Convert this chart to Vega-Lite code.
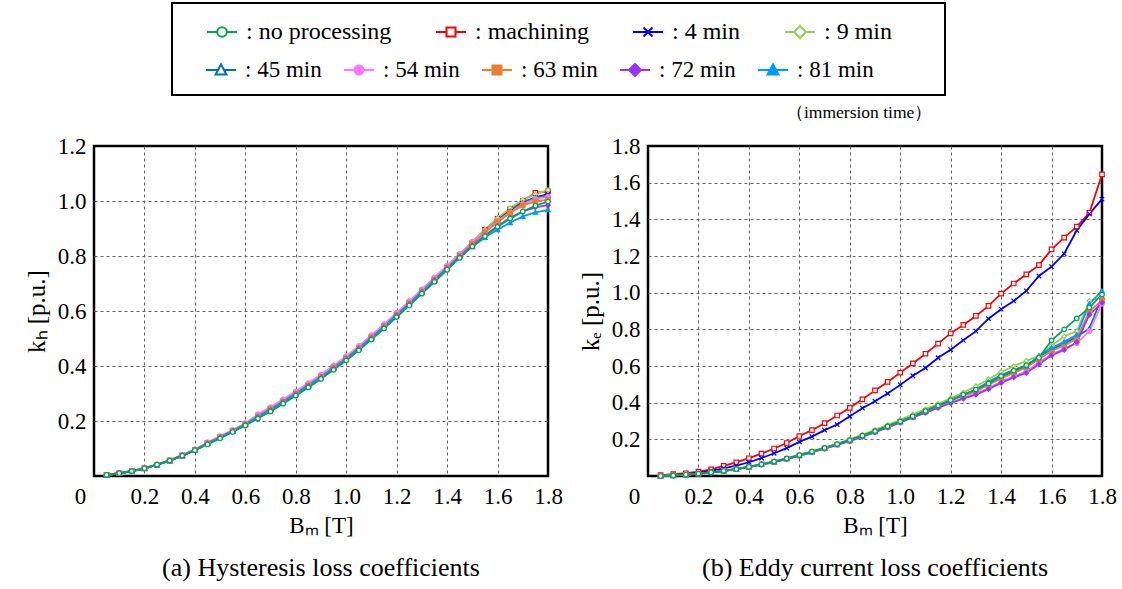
{
"$schema": "https://vega.github.io/schema/vega-lite/v6.json",
"background": "white",
"padding": {"left": 23, "top": 2, "right": 5, "bottom": 2},
"title": {"text": "（immersion time）", "anchor": "start", "frame": "group", "dx": 692, "dy": 123, "fontSize": 17.5, "font": "Liberation Serif", "fontWeight": "normal", "color": "black"},
"datasets": {
"a": [
{"s":"machining","B":0.05,"k":0.004},{"s":"machining","B":0.1,"k":0.010},{"s":"machining","B":0.15,"k":0.018},{"s":"machining","B":0.2,"k":0.028},{"s":"machining","B":0.25,"k":0.041},{"s":"machining","B":0.3,"k":0.056},{"s":"machining","B":0.35,"k":0.074},{"s":"machining","B":0.4,"k":0.094},{"s":"machining","B":0.45,"k":0.119},{"s":"machining","B":0.5,"k":0.141},{"s":"machining","B":0.55,"k":0.164},{"s":"machining","B":0.6,"k":0.188},{"s":"machining","B":0.65,"k":0.217},{"s":"machining","B":0.7,"k":0.243},{"s":"machining","B":0.75,"k":0.271},{"s":"machining","B":0.8,"k":0.300},{"s":"machining","B":0.85,"k":0.330},{"s":"machining","B":0.9,"k":0.361},{"s":"machining","B":0.95,"k":0.394},{"s":"machining","B":1,"k":0.428},{"s":"machining","B":1.05,"k":0.465},{"s":"machining","B":1.1,"k":0.504},{"s":"machining","B":1.15,"k":0.544},{"s":"machining","B":1.2,"k":0.586},{"s":"machining","B":1.25,"k":0.628},{"s":"machining","B":1.3,"k":0.671},{"s":"machining","B":1.35,"k":0.714},{"s":"machining","B":1.4,"k":0.758},{"s":"machining","B":1.45,"k":0.803},{"s":"machining","B":1.5,"k":0.848},{"s":"machining","B":1.55,"k":0.895},{"s":"machining","B":1.6,"k":0.935},{"s":"machining","B":1.65,"k":0.970},{"s":"machining","B":1.7,"k":1.000},{"s":"machining","B":1.75,"k":1.030},{"s":"machining","B":1.8,"k":1.035},
{"s":"4 min","B":0.05,"k":0.004},{"s":"4 min","B":0.1,"k":0.010},{"s":"4 min","B":0.15,"k":0.018},{"s":"4 min","B":0.2,"k":0.028},{"s":"4 min","B":0.25,"k":0.041},{"s":"4 min","B":0.3,"k":0.056},{"s":"4 min","B":0.35,"k":0.074},{"s":"4 min","B":0.4,"k":0.094},{"s":"4 min","B":0.45,"k":0.120},{"s":"4 min","B":0.5,"k":0.142},{"s":"4 min","B":0.55,"k":0.165},{"s":"4 min","B":0.6,"k":0.189},{"s":"4 min","B":0.65,"k":0.219},{"s":"4 min","B":0.7,"k":0.245},{"s":"4 min","B":0.75,"k":0.273},{"s":"4 min","B":0.8,"k":0.302},{"s":"4 min","B":0.85,"k":0.332},{"s":"4 min","B":0.9,"k":0.363},{"s":"4 min","B":0.95,"k":0.396},{"s":"4 min","B":1,"k":0.430},{"s":"4 min","B":1.05,"k":0.467},{"s":"4 min","B":1.1,"k":0.506},{"s":"4 min","B":1.15,"k":0.546},{"s":"4 min","B":1.2,"k":0.588},{"s":"4 min","B":1.25,"k":0.630},{"s":"4 min","B":1.3,"k":0.673},{"s":"4 min","B":1.35,"k":0.716},{"s":"4 min","B":1.4,"k":0.760},{"s":"4 min","B":1.45,"k":0.803},{"s":"4 min","B":1.5,"k":0.846},{"s":"4 min","B":1.55,"k":0.888},{"s":"4 min","B":1.6,"k":0.928},{"s":"4 min","B":1.65,"k":0.963},{"s":"4 min","B":1.7,"k":0.993},{"s":"4 min","B":1.75,"k":1.013},{"s":"4 min","B":1.8,"k":1.025},
{"s":"9 min","B":0.05,"k":0.004},{"s":"9 min","B":0.1,"k":0.010},{"s":"9 min","B":0.15,"k":0.018},{"s":"9 min","B":0.2,"k":0.028},{"s":"9 min","B":0.25,"k":0.041},{"s":"9 min","B":0.3,"k":0.056},{"s":"9 min","B":0.35,"k":0.075},{"s":"9 min","B":0.4,"k":0.095},{"s":"9 min","B":0.45,"k":0.121},{"s":"9 min","B":0.5,"k":0.143},{"s":"9 min","B":0.55,"k":0.166},{"s":"9 min","B":0.6,"k":0.190},{"s":"9 min","B":0.65,"k":0.221},{"s":"9 min","B":0.7,"k":0.247},{"s":"9 min","B":0.75,"k":0.275},{"s":"9 min","B":0.8,"k":0.304},{"s":"9 min","B":0.85,"k":0.334},{"s":"9 min","B":0.9,"k":0.365},{"s":"9 min","B":0.95,"k":0.398},{"s":"9 min","B":1,"k":0.432},{"s":"9 min","B":1.05,"k":0.469},{"s":"9 min","B":1.1,"k":0.508},{"s":"9 min","B":1.15,"k":0.548},{"s":"9 min","B":1.2,"k":0.590},{"s":"9 min","B":1.25,"k":0.632},{"s":"9 min","B":1.3,"k":0.675},{"s":"9 min","B":1.35,"k":0.718},{"s":"9 min","B":1.4,"k":0.762},{"s":"9 min","B":1.45,"k":0.806},{"s":"9 min","B":1.5,"k":0.852},{"s":"9 min","B":1.55,"k":0.897},{"s":"9 min","B":1.6,"k":0.938},{"s":"9 min","B":1.65,"k":0.974},{"s":"9 min","B":1.7,"k":1.004},{"s":"9 min","B":1.75,"k":1.025},{"s":"9 min","B":1.8,"k":1.040},
{"s":"45 min","B":0.05,"k":0.004},{"s":"45 min","B":0.1,"k":0.010},{"s":"45 min","B":0.15,"k":0.018},{"s":"45 min","B":0.2,"k":0.028},{"s":"45 min","B":0.25,"k":0.041},{"s":"45 min","B":0.3,"k":0.057},{"s":"45 min","B":0.35,"k":0.075},{"s":"45 min","B":0.4,"k":0.095},{"s":"45 min","B":0.45,"k":0.120},{"s":"45 min","B":0.5,"k":0.142},{"s":"45 min","B":0.55,"k":0.165},{"s":"45 min","B":0.6,"k":0.189},{"s":"45 min","B":0.65,"k":0.219},{"s":"45 min","B":0.7,"k":0.245},{"s":"45 min","B":0.75,"k":0.273},{"s":"45 min","B":0.8,"k":0.302},{"s":"45 min","B":0.85,"k":0.332},{"s":"45 min","B":0.9,"k":0.363},{"s":"45 min","B":0.95,"k":0.396},{"s":"45 min","B":1,"k":0.430},{"s":"45 min","B":1.05,"k":0.467},{"s":"45 min","B":1.1,"k":0.506},{"s":"45 min","B":1.15,"k":0.546},{"s":"45 min","B":1.2,"k":0.588},{"s":"45 min","B":1.25,"k":0.630},{"s":"45 min","B":1.3,"k":0.673},{"s":"45 min","B":1.35,"k":0.716},{"s":"45 min","B":1.4,"k":0.760},{"s":"45 min","B":1.45,"k":0.804},{"s":"45 min","B":1.5,"k":0.848},{"s":"45 min","B":1.55,"k":0.891},{"s":"45 min","B":1.6,"k":0.929},{"s":"45 min","B":1.65,"k":0.964},{"s":"45 min","B":1.7,"k":0.994},{"s":"45 min","B":1.75,"k":1.013},{"s":"45 min","B":1.8,"k":1.020},
{"s":"54 min","B":0.05,"k":0.004},{"s":"54 min","B":0.1,"k":0.011},{"s":"54 min","B":0.15,"k":0.019},{"s":"54 min","B":0.2,"k":0.030},{"s":"54 min","B":0.25,"k":0.043},{"s":"54 min","B":0.3,"k":0.058},{"s":"54 min","B":0.35,"k":0.077},{"s":"54 min","B":0.4,"k":0.097},{"s":"54 min","B":0.45,"k":0.123},{"s":"54 min","B":0.5,"k":0.145},{"s":"54 min","B":0.55,"k":0.168},{"s":"54 min","B":0.6,"k":0.192},{"s":"54 min","B":0.65,"k":0.225},{"s":"54 min","B":0.7,"k":0.251},{"s":"54 min","B":0.75,"k":0.279},{"s":"54 min","B":0.8,"k":0.308},{"s":"54 min","B":0.85,"k":0.338},{"s":"54 min","B":0.9,"k":0.369},{"s":"54 min","B":0.95,"k":0.402},{"s":"54 min","B":1,"k":0.436},{"s":"54 min","B":1.05,"k":0.473},{"s":"54 min","B":1.1,"k":0.512},{"s":"54 min","B":1.15,"k":0.552},{"s":"54 min","B":1.2,"k":0.594},{"s":"54 min","B":1.25,"k":0.636},{"s":"54 min","B":1.3,"k":0.679},{"s":"54 min","B":1.35,"k":0.722},{"s":"54 min","B":1.4,"k":0.766},{"s":"54 min","B":1.45,"k":0.808},{"s":"54 min","B":1.5,"k":0.852},{"s":"54 min","B":1.55,"k":0.891},{"s":"54 min","B":1.6,"k":0.927},{"s":"54 min","B":1.65,"k":0.959},{"s":"54 min","B":1.7,"k":0.989},{"s":"54 min","B":1.75,"k":1.008},{"s":"54 min","B":1.8,"k":1.015},
{"s":"63 min","B":0.05,"k":0.004},{"s":"63 min","B":0.1,"k":0.010},{"s":"63 min","B":0.15,"k":0.018},{"s":"63 min","B":0.2,"k":0.028},{"s":"63 min","B":0.25,"k":0.041},{"s":"63 min","B":0.3,"k":0.056},{"s":"63 min","B":0.35,"k":0.074},{"s":"63 min","B":0.4,"k":0.094},{"s":"63 min","B":0.45,"k":0.119},{"s":"63 min","B":0.5,"k":0.141},{"s":"63 min","B":0.55,"k":0.164},{"s":"63 min","B":0.6,"k":0.188},{"s":"63 min","B":0.65,"k":0.217},{"s":"63 min","B":0.7,"k":0.243},{"s":"63 min","B":0.75,"k":0.271},{"s":"63 min","B":0.8,"k":0.300},{"s":"63 min","B":0.85,"k":0.330},{"s":"63 min","B":0.9,"k":0.361},{"s":"63 min","B":0.95,"k":0.394},{"s":"63 min","B":1,"k":0.428},{"s":"63 min","B":1.05,"k":0.465},{"s":"63 min","B":1.1,"k":0.504},{"s":"63 min","B":1.15,"k":0.544},{"s":"63 min","B":1.2,"k":0.586},{"s":"63 min","B":1.25,"k":0.628},{"s":"63 min","B":1.3,"k":0.671},{"s":"63 min","B":1.35,"k":0.714},{"s":"63 min","B":1.4,"k":0.758},{"s":"63 min","B":1.45,"k":0.801},{"s":"63 min","B":1.5,"k":0.845},{"s":"63 min","B":1.55,"k":0.886},{"s":"63 min","B":1.6,"k":0.923},{"s":"63 min","B":1.65,"k":0.956},{"s":"63 min","B":1.7,"k":0.984},{"s":"63 min","B":1.75,"k":0.999},{"s":"63 min","B":1.8,"k":1.005},
{"s":"72 min","B":0.05,"k":0.004},{"s":"72 min","B":0.1,"k":0.010},{"s":"72 min","B":0.15,"k":0.018},{"s":"72 min","B":0.2,"k":0.028},{"s":"72 min","B":0.25,"k":0.041},{"s":"72 min","B":0.3,"k":0.056},{"s":"72 min","B":0.35,"k":0.074},{"s":"72 min","B":0.4,"k":0.094},{"s":"72 min","B":0.45,"k":0.118},{"s":"72 min","B":0.5,"k":0.140},{"s":"72 min","B":0.55,"k":0.163},{"s":"72 min","B":0.6,"k":0.187},{"s":"72 min","B":0.65,"k":0.214},{"s":"72 min","B":0.7,"k":0.240},{"s":"72 min","B":0.75,"k":0.268},{"s":"72 min","B":0.8,"k":0.297},{"s":"72 min","B":0.85,"k":0.327},{"s":"72 min","B":0.9,"k":0.358},{"s":"72 min","B":0.95,"k":0.391},{"s":"72 min","B":1,"k":0.425},{"s":"72 min","B":1.05,"k":0.462},{"s":"72 min","B":1.1,"k":0.501},{"s":"72 min","B":1.15,"k":0.541},{"s":"72 min","B":1.2,"k":0.583},{"s":"72 min","B":1.25,"k":0.625},{"s":"72 min","B":1.3,"k":0.668},{"s":"72 min","B":1.35,"k":0.711},{"s":"72 min","B":1.4,"k":0.755},{"s":"72 min","B":1.45,"k":0.798},{"s":"72 min","B":1.5,"k":0.838},{"s":"72 min","B":1.55,"k":0.875},{"s":"72 min","B":1.6,"k":0.909},{"s":"72 min","B":1.65,"k":0.939},{"s":"72 min","B":1.7,"k":0.962},{"s":"72 min","B":1.75,"k":0.977},{"s":"72 min","B":1.8,"k":0.985},
{"s":"81 min","B":0.05,"k":0.003},{"s":"81 min","B":0.1,"k":0.009},{"s":"81 min","B":0.15,"k":0.017},{"s":"81 min","B":0.2,"k":0.027},{"s":"81 min","B":0.25,"k":0.040},{"s":"81 min","B":0.3,"k":0.055},{"s":"81 min","B":0.35,"k":0.074},{"s":"81 min","B":0.4,"k":0.094},{"s":"81 min","B":0.45,"k":0.118},{"s":"81 min","B":0.5,"k":0.140},{"s":"81 min","B":0.55,"k":0.163},{"s":"81 min","B":0.6,"k":0.187},{"s":"81 min","B":0.65,"k":0.215},{"s":"81 min","B":0.7,"k":0.241},{"s":"81 min","B":0.75,"k":0.269},{"s":"81 min","B":0.8,"k":0.298},{"s":"81 min","B":0.85,"k":0.328},{"s":"81 min","B":0.9,"k":0.359},{"s":"81 min","B":0.95,"k":0.392},{"s":"81 min","B":1,"k":0.426},{"s":"81 min","B":1.05,"k":0.463},{"s":"81 min","B":1.1,"k":0.502},{"s":"81 min","B":1.15,"k":0.542},{"s":"81 min","B":1.2,"k":0.584},{"s":"81 min","B":1.25,"k":0.626},{"s":"81 min","B":1.3,"k":0.669},{"s":"81 min","B":1.35,"k":0.712},{"s":"81 min","B":1.4,"k":0.755},{"s":"81 min","B":1.45,"k":0.797},{"s":"81 min","B":1.5,"k":0.834},{"s":"81 min","B":1.55,"k":0.867},{"s":"81 min","B":1.6,"k":0.896},{"s":"81 min","B":1.65,"k":0.921},{"s":"81 min","B":1.7,"k":0.944},{"s":"81 min","B":1.75,"k":0.959},{"s":"81 min","B":1.8,"k":0.968},
{"s":"no processing","B":0.05,"k":0.004},{"s":"no processing","B":0.1,"k":0.010},{"s":"no processing","B":0.15,"k":0.018},{"s":"no processing","B":0.2,"k":0.028},{"s":"no processing","B":0.25,"k":0.041},{"s":"no processing","B":0.3,"k":0.056},{"s":"no processing","B":0.35,"k":0.074},{"s":"no processing","B":0.4,"k":0.094},{"s":"no processing","B":0.45,"k":0.115},{"s":"no processing","B":0.5,"k":0.137},{"s":"no processing","B":0.55,"k":0.160},{"s":"no processing","B":0.6,"k":0.184},{"s":"no processing","B":0.65,"k":0.209},{"s":"no processing","B":0.7,"k":0.235},{"s":"no processing","B":0.75,"k":0.263},{"s":"no processing","B":0.8,"k":0.292},{"s":"no processing","B":0.85,"k":0.322},{"s":"no processing","B":0.9,"k":0.353},{"s":"no processing","B":0.95,"k":0.386},{"s":"no processing","B":1,"k":0.420},{"s":"no processing","B":1.05,"k":0.457},{"s":"no processing","B":1.1,"k":0.496},{"s":"no processing","B":1.15,"k":0.536},{"s":"no processing","B":1.2,"k":0.578},{"s":"no processing","B":1.25,"k":0.620},{"s":"no processing","B":1.3,"k":0.663},{"s":"no processing","B":1.35,"k":0.706},{"s":"no processing","B":1.4,"k":0.750},{"s":"no processing","B":1.45,"k":0.793},{"s":"no processing","B":1.5,"k":0.835},{"s":"no processing","B":1.55,"k":0.872},{"s":"no processing","B":1.6,"k":0.906},{"s":"no processing","B":1.65,"k":0.936},{"s":"no processing","B":1.7,"k":0.962},{"s":"no processing","B":1.75,"k":0.983},{"s":"no processing","B":1.8,"k":0.998}
],
"b": [
{"s":"machining","B":0.05,"k":0.005},{"s":"machining","B":0.1,"k":0.010},{"s":"machining","B":0.15,"k":0.015},{"s":"machining","B":0.2,"k":0.024},{"s":"machining","B":0.25,"k":0.036},{"s":"machining","B":0.3,"k":0.055},{"s":"machining","B":0.35,"k":0.074},{"s":"machining","B":0.4,"k":0.097},{"s":"machining","B":0.45,"k":0.122},{"s":"machining","B":0.5,"k":0.150},{"s":"machining","B":0.55,"k":0.180},{"s":"machining","B":0.6,"k":0.218},{"s":"machining","B":0.65,"k":0.250},{"s":"machining","B":0.7,"k":0.288},{"s":"machining","B":0.75,"k":0.330},{"s":"machining","B":0.8,"k":0.372},{"s":"machining","B":0.85,"k":0.418},{"s":"machining","B":0.9,"k":0.467},{"s":"machining","B":0.95,"k":0.513},{"s":"machining","B":1,"k":0.564},{"s":"machining","B":1.05,"k":0.614},{"s":"machining","B":1.1,"k":0.667},{"s":"machining","B":1.15,"k":0.722},{"s":"machining","B":1.2,"k":0.778},{"s":"machining","B":1.25,"k":0.824},{"s":"machining","B":1.3,"k":0.873},{"s":"machining","B":1.35,"k":0.928},{"s":"machining","B":1.4,"k":0.995},{"s":"machining","B":1.45,"k":1.050},{"s":"machining","B":1.5,"k":1.100},{"s":"machining","B":1.55,"k":1.150},{"s":"machining","B":1.6,"k":1.236},{"s":"machining","B":1.65,"k":1.300},{"s":"machining","B":1.7,"k":1.360},{"s":"machining","B":1.75,"k":1.436},{"s":"machining","B":1.8,"k":1.645},
{"s":"4 min","B":0.05,"k":0.000},{"s":"4 min","B":0.1,"k":0.003},{"s":"4 min","B":0.15,"k":0.010},{"s":"4 min","B":0.2,"k":0.018},{"s":"4 min","B":0.25,"k":0.028},{"s":"4 min","B":0.3,"k":0.042},{"s":"4 min","B":0.35,"k":0.057},{"s":"4 min","B":0.4,"k":0.075},{"s":"4 min","B":0.45,"k":0.098},{"s":"4 min","B":0.5,"k":0.124},{"s":"4 min","B":0.55,"k":0.152},{"s":"4 min","B":0.6,"k":0.186},{"s":"4 min","B":0.65,"k":0.215},{"s":"4 min","B":0.7,"k":0.250},{"s":"4 min","B":0.75,"k":0.281},{"s":"4 min","B":0.8,"k":0.326},{"s":"4 min","B":0.85,"k":0.370},{"s":"4 min","B":0.9,"k":0.408},{"s":"4 min","B":0.95,"k":0.450},{"s":"4 min","B":1,"k":0.497},{"s":"4 min","B":1.05,"k":0.547},{"s":"4 min","B":1.1,"k":0.589},{"s":"4 min","B":1.15,"k":0.645},{"s":"4 min","B":1.2,"k":0.689},{"s":"4 min","B":1.25,"k":0.740},{"s":"4 min","B":1.3,"k":0.790},{"s":"4 min","B":1.35,"k":0.858},{"s":"4 min","B":1.4,"k":0.910},{"s":"4 min","B":1.45,"k":0.955},{"s":"4 min","B":1.5,"k":1.010},{"s":"4 min","B":1.55,"k":1.091},{"s":"4 min","B":1.6,"k":1.142},{"s":"4 min","B":1.65,"k":1.212},{"s":"4 min","B":1.7,"k":1.340},{"s":"4 min","B":1.75,"k":1.430},{"s":"4 min","B":1.8,"k":1.510},
{"s":"9 min","B":0.05,"k":0.000},{"s":"9 min","B":0.1,"k":0.003},{"s":"9 min","B":0.15,"k":0.007},{"s":"9 min","B":0.2,"k":0.013},{"s":"9 min","B":0.25,"k":0.020},{"s":"9 min","B":0.3,"k":0.028},{"s":"9 min","B":0.35,"k":0.039},{"s":"9 min","B":0.4,"k":0.051},{"s":"9 min","B":0.45,"k":0.065},{"s":"9 min","B":0.5,"k":0.080},{"s":"9 min","B":0.55,"k":0.097},{"s":"9 min","B":0.6,"k":0.116},{"s":"9 min","B":0.65,"k":0.135},{"s":"9 min","B":0.7,"k":0.155},{"s":"9 min","B":0.75,"k":0.177},{"s":"9 min","B":0.8,"k":0.200},{"s":"9 min","B":0.85,"k":0.226},{"s":"9 min","B":0.9,"k":0.252},{"s":"9 min","B":0.95,"k":0.279},{"s":"9 min","B":1,"k":0.307},{"s":"9 min","B":1.05,"k":0.336},{"s":"9 min","B":1.1,"k":0.365},{"s":"9 min","B":1.15,"k":0.394},{"s":"9 min","B":1.2,"k":0.424},{"s":"9 min","B":1.25,"k":0.455},{"s":"9 min","B":1.3,"k":0.490},{"s":"9 min","B":1.35,"k":0.528},{"s":"9 min","B":1.4,"k":0.568},{"s":"9 min","B":1.45,"k":0.600},{"s":"9 min","B":1.5,"k":0.628},{"s":"9 min","B":1.55,"k":0.655},{"s":"9 min","B":1.6,"k":0.710},{"s":"9 min","B":1.65,"k":0.762},{"s":"9 min","B":1.7,"k":0.790},{"s":"9 min","B":1.75,"k":0.955},{"s":"9 min","B":1.8,"k":0.975},
{"s":"45 min","B":0.05,"k":0.000},{"s":"45 min","B":0.1,"k":0.003},{"s":"45 min","B":0.15,"k":0.007},{"s":"45 min","B":0.2,"k":0.013},{"s":"45 min","B":0.25,"k":0.020},{"s":"45 min","B":0.3,"k":0.028},{"s":"45 min","B":0.35,"k":0.038},{"s":"45 min","B":0.4,"k":0.050},{"s":"45 min","B":0.45,"k":0.064},{"s":"45 min","B":0.5,"k":0.077},{"s":"45 min","B":0.55,"k":0.094},{"s":"45 min","B":0.6,"k":0.112},{"s":"45 min","B":0.65,"k":0.131},{"s":"45 min","B":0.7,"k":0.151},{"s":"45 min","B":0.75,"k":0.172},{"s":"45 min","B":0.8,"k":0.194},{"s":"45 min","B":0.85,"k":0.218},{"s":"45 min","B":0.9,"k":0.243},{"s":"45 min","B":0.95,"k":0.269},{"s":"45 min","B":1,"k":0.296},{"s":"45 min","B":1.05,"k":0.324},{"s":"45 min","B":1.1,"k":0.353},{"s":"45 min","B":1.15,"k":0.382},{"s":"45 min","B":1.2,"k":0.412},{"s":"45 min","B":1.25,"k":0.442},{"s":"45 min","B":1.3,"k":0.468},{"s":"45 min","B":1.35,"k":0.505},{"s":"45 min","B":1.4,"k":0.540},{"s":"45 min","B":1.45,"k":0.570},{"s":"45 min","B":1.5,"k":0.598},{"s":"45 min","B":1.55,"k":0.650},{"s":"45 min","B":1.6,"k":0.690},{"s":"45 min","B":1.65,"k":0.722},{"s":"45 min","B":1.7,"k":0.760},{"s":"45 min","B":1.75,"k":0.805},{"s":"45 min","B":1.8,"k":0.975},
{"s":"54 min","B":0.05,"k":0.000},{"s":"54 min","B":0.1,"k":0.003},{"s":"54 min","B":0.15,"k":0.007},{"s":"54 min","B":0.2,"k":0.013},{"s":"54 min","B":0.25,"k":0.020},{"s":"54 min","B":0.3,"k":0.028},{"s":"54 min","B":0.35,"k":0.038},{"s":"54 min","B":0.4,"k":0.050},{"s":"54 min","B":0.45,"k":0.063},{"s":"54 min","B":0.5,"k":0.076},{"s":"54 min","B":0.55,"k":0.093},{"s":"54 min","B":0.6,"k":0.111},{"s":"54 min","B":0.65,"k":0.130},{"s":"54 min","B":0.7,"k":0.150},{"s":"54 min","B":0.75,"k":0.171},{"s":"54 min","B":0.8,"k":0.190},{"s":"54 min","B":0.85,"k":0.214},{"s":"54 min","B":0.9,"k":0.239},{"s":"54 min","B":0.95,"k":0.265},{"s":"54 min","B":1,"k":0.292},{"s":"54 min","B":1.05,"k":0.320},{"s":"54 min","B":1.1,"k":0.347},{"s":"54 min","B":1.15,"k":0.374},{"s":"54 min","B":1.2,"k":0.401},{"s":"54 min","B":1.25,"k":0.427},{"s":"54 min","B":1.3,"k":0.452},{"s":"54 min","B":1.35,"k":0.478},{"s":"54 min","B":1.4,"k":0.515},{"s":"54 min","B":1.45,"k":0.545},{"s":"54 min","B":1.5,"k":0.570},{"s":"54 min","B":1.55,"k":0.620},{"s":"54 min","B":1.6,"k":0.665},{"s":"54 min","B":1.65,"k":0.695},{"s":"54 min","B":1.7,"k":0.725},{"s":"54 min","B":1.75,"k":0.790},{"s":"54 min","B":1.8,"k":0.940},
{"s":"63 min","B":0.05,"k":0.000},{"s":"63 min","B":0.1,"k":0.003},{"s":"63 min","B":0.15,"k":0.007},{"s":"63 min","B":0.2,"k":0.013},{"s":"63 min","B":0.25,"k":0.020},{"s":"63 min","B":0.3,"k":0.028},{"s":"63 min","B":0.35,"k":0.038},{"s":"63 min","B":0.4,"k":0.050},{"s":"63 min","B":0.45,"k":0.063},{"s":"63 min","B":0.5,"k":0.077},{"s":"63 min","B":0.55,"k":0.094},{"s":"63 min","B":0.6,"k":0.112},{"s":"63 min","B":0.65,"k":0.131},{"s":"63 min","B":0.7,"k":0.151},{"s":"63 min","B":0.75,"k":0.172},{"s":"63 min","B":0.8,"k":0.193},{"s":"63 min","B":0.85,"k":0.217},{"s":"63 min","B":0.9,"k":0.242},{"s":"63 min","B":0.95,"k":0.268},{"s":"63 min","B":1,"k":0.295},{"s":"63 min","B":1.05,"k":0.323},{"s":"63 min","B":1.1,"k":0.352},{"s":"63 min","B":1.15,"k":0.381},{"s":"63 min","B":1.2,"k":0.411},{"s":"63 min","B":1.25,"k":0.438},{"s":"63 min","B":1.3,"k":0.462},{"s":"63 min","B":1.35,"k":0.498},{"s":"63 min","B":1.4,"k":0.532},{"s":"63 min","B":1.45,"k":0.562},{"s":"63 min","B":1.5,"k":0.592},{"s":"63 min","B":1.55,"k":0.638},{"s":"63 min","B":1.6,"k":0.682},{"s":"63 min","B":1.65,"k":0.712},{"s":"63 min","B":1.7,"k":0.748},{"s":"63 min","B":1.75,"k":0.900},{"s":"63 min","B":1.8,"k":0.958},
{"s":"72 min","B":0.05,"k":0.000},{"s":"72 min","B":0.1,"k":0.003},{"s":"72 min","B":0.15,"k":0.007},{"s":"72 min","B":0.2,"k":0.013},{"s":"72 min","B":0.25,"k":0.020},{"s":"72 min","B":0.3,"k":0.028},{"s":"72 min","B":0.35,"k":0.038},{"s":"72 min","B":0.4,"k":0.049},{"s":"72 min","B":0.45,"k":0.062},{"s":"72 min","B":0.5,"k":0.076},{"s":"72 min","B":0.55,"k":0.092},{"s":"72 min","B":0.6,"k":0.110},{"s":"72 min","B":0.65,"k":0.129},{"s":"72 min","B":0.7,"k":0.149},{"s":"72 min","B":0.75,"k":0.170},{"s":"72 min","B":0.8,"k":0.190},{"s":"72 min","B":0.85,"k":0.214},{"s":"72 min","B":0.9,"k":0.239},{"s":"72 min","B":0.95,"k":0.265},{"s":"72 min","B":1,"k":0.292},{"s":"72 min","B":1.05,"k":0.319},{"s":"72 min","B":1.1,"k":0.345},{"s":"72 min","B":1.15,"k":0.372},{"s":"72 min","B":1.2,"k":0.398},{"s":"72 min","B":1.25,"k":0.422},{"s":"72 min","B":1.3,"k":0.444},{"s":"72 min","B":1.35,"k":0.474},{"s":"72 min","B":1.4,"k":0.508},{"s":"72 min","B":1.45,"k":0.538},{"s":"72 min","B":1.5,"k":0.562},{"s":"72 min","B":1.55,"k":0.610},{"s":"72 min","B":1.6,"k":0.658},{"s":"72 min","B":1.65,"k":0.688},{"s":"72 min","B":1.7,"k":0.730},{"s":"72 min","B":1.75,"k":0.880},{"s":"72 min","B":1.8,"k":0.945},
{"s":"81 min","B":0.05,"k":0.000},{"s":"81 min","B":0.1,"k":0.002},{"s":"81 min","B":0.15,"k":0.006},{"s":"81 min","B":0.2,"k":0.012},{"s":"81 min","B":0.25,"k":0.019},{"s":"81 min","B":0.3,"k":0.027},{"s":"81 min","B":0.35,"k":0.037},{"s":"81 min","B":0.4,"k":0.049},{"s":"81 min","B":0.45,"k":0.063},{"s":"81 min","B":0.5,"k":0.078},{"s":"81 min","B":0.55,"k":0.095},{"s":"81 min","B":0.6,"k":0.113},{"s":"81 min","B":0.65,"k":0.132},{"s":"81 min","B":0.7,"k":0.153},{"s":"81 min","B":0.75,"k":0.174},{"s":"81 min","B":0.8,"k":0.196},{"s":"81 min","B":0.85,"k":0.220},{"s":"81 min","B":0.9,"k":0.245},{"s":"81 min","B":0.95,"k":0.271},{"s":"81 min","B":1,"k":0.298},{"s":"81 min","B":1.05,"k":0.326},{"s":"81 min","B":1.1,"k":0.355},{"s":"81 min","B":1.15,"k":0.384},{"s":"81 min","B":1.2,"k":0.414},{"s":"81 min","B":1.25,"k":0.444},{"s":"81 min","B":1.3,"k":0.470},{"s":"81 min","B":1.35,"k":0.515},{"s":"81 min","B":1.4,"k":0.550},{"s":"81 min","B":1.45,"k":0.578},{"s":"81 min","B":1.5,"k":0.600},{"s":"81 min","B":1.55,"k":0.655},{"s":"81 min","B":1.6,"k":0.700},{"s":"81 min","B":1.65,"k":0.732},{"s":"81 min","B":1.7,"k":0.770},{"s":"81 min","B":1.75,"k":0.940},{"s":"81 min","B":1.8,"k":1.010},
{"s":"no processing","B":0.05,"k":0.000},{"s":"no processing","B":0.1,"k":0.003},{"s":"no processing","B":0.15,"k":0.007},{"s":"no processing","B":0.2,"k":0.013},{"s":"no processing","B":0.25,"k":0.020},{"s":"no processing","B":0.3,"k":0.028},{"s":"no processing","B":0.35,"k":0.038},{"s":"no processing","B":0.4,"k":0.050},{"s":"no processing","B":0.45,"k":0.064},{"s":"no processing","B":0.5,"k":0.079},{"s":"no processing","B":0.55,"k":0.096},{"s":"no processing","B":0.6,"k":0.114},{"s":"no processing","B":0.65,"k":0.133},{"s":"no processing","B":0.7,"k":0.153},{"s":"no processing","B":0.75,"k":0.174},{"s":"no processing","B":0.8,"k":0.196},{"s":"no processing","B":0.85,"k":0.220},{"s":"no processing","B":0.9,"k":0.245},{"s":"no processing","B":0.95,"k":0.271},{"s":"no processing","B":1,"k":0.298},{"s":"no processing","B":1.05,"k":0.326},{"s":"no processing","B":1.1,"k":0.355},{"s":"no processing","B":1.15,"k":0.384},{"s":"no processing","B":1.2,"k":0.414},{"s":"no processing","B":1.25,"k":0.444},{"s":"no processing","B":1.3,"k":0.472},{"s":"no processing","B":1.35,"k":0.505},{"s":"no processing","B":1.4,"k":0.545},{"s":"no processing","B":1.45,"k":0.575},{"s":"no processing","B":1.5,"k":0.605},{"s":"no processing","B":1.55,"k":0.645},{"s":"no processing","B":1.6,"k":0.740},{"s":"no processing","B":1.65,"k":0.800},{"s":"no processing","B":1.7,"k":0.860},{"s":"no processing","B":1.75,"k":0.918},{"s":"no processing","B":1.8,"k":0.990}
]
},
"spacing": 100,
"bounds": "flush",
"resolve": {"scale": {"color": "shared", "fill": "shared", "stroke": "shared"}},
"hconcat": [
{
"width": 454, "height": 330,
"data": {"name": "a"},
"title": {"text": "(a) Hysteresis loss coefficients", "orient": "bottom", "anchor": "middle", "offset": 18, "fontSize": 26, "font": "Liberation Serif", "fontWeight": "normal", "color": "black"},
"layer": [
{"mark": {"type": "line", "strokeWidth": 1.8},
 "encoding": {
  "x": {"field": "B", "type": "quantitative", "scale": {"domain": [0, 1.8], "nice": false, "zero": false},
        "axis": {"title": "Bₘ [T]", "values": [0,0.2,0.4,0.6,0.8,1,1.2,1.4,1.6,1.8], "labelExpr": "datum.value == 0 ? '0' : format(datum.value, '.1f')", "labelOffset": {"condition": {"test": "datum.value == 0", "value": -14}, "value": 0}, "gridColor": {"condition": {"test": "datum.value == 0 || datum.value > 1.79", "value": "transparent"}, "value": "#666666"}, "labelFlush": false, "labelOverlap": false, "labelPadding": 9, "titlePadding": 6}},
  "y": {"field": "k", "type": "quantitative", "scale": {"domain": [0, 1.2], "nice": false},
        "axis": {"title": "kₕ [p.u.]", "titleFontSize": 25, "values": [0.2,0.4,0.6,0.8,1,1.2], "format": ".1f", "gridColor": {"condition": {"test": "datum.value > 1.19", "value": "transparent"}, "value": "#666666"}, "labelOverlap": false, "labelFlush": false, "labelPadding": 8, "titlePadding": 8}},
  "color": {"field": "s", "type": "nominal",
   "scale": {"domain": ["no processing","machining","4 min","9 min","45 min","54 min","63 min","72 min","81 min"], "range": ["#00a651","#ff0000","#0000ff","#92d050","#0070c0","#ff77ff","#ed7d31","#9933ff","#0099ff"]},
   "legend": {
    "values": ["no processing","machining","4 min","9 min"],
    "orient": "none", "legendX": 112, "legendY": -130, "direction": "horizontal", "columns": 4,
    "columnPadding": 40, "padding": 0, "title": null,
    "symbolSize": 900, "symbolStrokeWidth": 2, "labelFont": "Liberation Serif", "labelFontSize": 24, "labelColor": "black", "labelOffset": 8, "labelLimit": 400,
    "labelExpr": "': ' + datum.label",
    "encode": {
     "symbols": {"update": {
      "shape": {"signal": "datum.value == 'no processing' ? 'M-1,0H-0.32M0.32,0H1M0.32,0A0.32,0.32,0,1,1,-0.32,0A0.32,0.32,0,1,1,0.32,0Z' : datum.value == 'machining' ? 'M-1,0H-0.3M0.3,0H1M-0.3,-0.3H0.3V0.3H-0.3Z' : datum.value == '4 min' ? 'M-1,0H1M-0.3,-0.3L0.3,0.3M-0.3,0.3L0.3,-0.3' : 'M-1,0H-0.4M0.4,0H1M0,-0.4L0.4,0L0,0.4L-0.4,0Z'"},
      "fill": {"signal": "scale('fill', datum.value)"},
      "stroke": {"signal": "scale('color', datum.value)"},
      "strokeWidth": {"value": 2},
      "opacity": {"value": 1}
     }}
    }
   }}
 }},
{"mark": {"type": "line", "strokeWidth": 1.8, "opacity": 0},
 "encoding": {
  "x": {"field": "B", "type": "quantitative"},
  "y": {"field": "k", "type": "quantitative"},
  "stroke": {"field": "s", "type": "nominal", "scale": {"domain": ["45 min","54 min","63 min","72 min","81 min","no processing","machining","4 min","9 min"], "range": ["#0070c0","#ff77ff","#ed7d31","#9933ff","#0099ff","#00a651","#ff0000","#0000ff","#92d050"]},
   "legend": {
    "values": ["45 min","54 min","63 min","72 min","81 min"],
    "orient": "none", "legendX": 78, "legendY": -143, "direction": "horizontal", "columns": 5,
    "columnPadding": 1, "symbolOffset": 20, "padding": 13, "strokeColor": "black",
    "title": " ", "titleOrient": "top", "titleFontSize": 28, "titlePadding": 10, "titleFont": "Liberation Serif",
    "symbolSize": 900, "symbolStrokeWidth": 2, "labelFont": "Liberation Serif", "labelFontSize": 23, "labelColor": "black", "labelOffset": 8, "labelLimit": 600,
    "labelExpr": "datum.value == '81 min' ? ': 81 min\u00a0\u00a0\u00a0\u00a0\u00a0\u00a0\u00a0\u00a0\u00a0\u00a0\u200b' : ': ' + datum.value",
    "encode": {
     "legend": {"update": {"strokeWidth": {"value": 2}}},
     "symbols": {"update": {
      "shape": {"signal": "datum.value == '45 min' ? 'M-1,0H-0.2M0.2,0H1M0,-0.38L0.36,0.3L-0.36,0.3Z' : datum.value == '54 min' ? 'M-1,0H1M0.3,0A0.3,0.3,0,1,1,-0.3,0A0.3,0.3,0,1,1,0.3,0Z' : datum.value == '63 min' ? 'M-1,0H1M-0.3,-0.3H0.3V0.3H-0.3Z' : datum.value == '72 min' ? 'M-1,0H1M0,-0.4L0.4,0L0,0.4L-0.4,0Z' : 'M-1,0H1M0,-0.38L0.36,0.3L-0.36,0.3Z'"},
      "fill": {"signal": "scale('fill', datum.value)"},
      "stroke": {"signal": "scale('color', datum.value)"},
      "strokeWidth": {"value": 2},
      "opacity": {"value": 1},
      "strokeOpacity": {"value": 1},
      "fillOpacity": {"value": 1}
     }}
    }
   }}
 }},
{"mark": {"type": "point", "filled": true, "size": 20, "strokeWidth": 1.2, "opacity": 1},
 "encoding": {
  "x": {"field": "B", "type": "quantitative"},
  "y": {"field": "k", "type": "quantitative"},
  "shape": {"condition": [{"test": "datum.s == 'machining' || datum.s == '63 min'", "value": "square"}, {"test": "datum.s == '4 min'", "value": "M-1,-1L1,1M-1,1L1,-1"}, {"test": "datum.s == '9 min' || datum.s == '72 min'", "value": "diamond"}, {"test": "datum.s == '45 min' || datum.s == '81 min'", "value": "triangle-up"}], "value": "circle"},
  "fill": {"field": "s", "type": "nominal", "scale": {"domain": ["no processing","machining","4 min","9 min","45 min","54 min","63 min","72 min","81 min"], "range": ["#ffffff","#ffffff","#0000ff","#ffffff","#ffffff","#ff77ff","#ed7d31","#9933ff","#0099ff"]}, "legend": null},
  "stroke": {"field": "s", "type": "nominal", "legend": null}
 }}
]
},
{
"width": 454, "height": 330,
"data": {"name": "b"},
"title": {"text": "(b) Eddy current loss coefficients", "orient": "bottom", "anchor": "middle", "offset": 18, "fontSize": 26, "font": "Liberation Serif", "fontWeight": "normal", "color": "black"},
"layer": [
{"mark": {"type": "line", "strokeWidth": 1.8},
 "encoding": {
  "x": {"field": "B", "type": "quantitative", "scale": {"domain": [0, 1.8], "nice": false, "zero": false},
        "axis": {"title": "Bₘ [T]", "values": [0,0.2,0.4,0.6,0.8,1,1.2,1.4,1.6,1.8], "labelExpr": "datum.value == 0 ? '0' : format(datum.value, '.1f')", "labelOffset": {"condition": {"test": "datum.value == 0", "value": -14}, "value": 0}, "gridColor": {"condition": {"test": "datum.value == 0 || datum.value > 1.79", "value": "transparent"}, "value": "#666666"}, "labelFlush": false, "labelOverlap": false, "labelPadding": 9, "titlePadding": 6}},
  "y": {"field": "k", "type": "quantitative", "scale": {"domain": [0, 1.8], "nice": false},
        "axis": {"title": "kₑ [p.u.]", "titleFontSize": 25, "values": [0.2,0.4,0.6,0.8,1,1.2,1.4,1.6,1.8], "format": ".1f", "gridColor": {"condition": {"test": "datum.value > 1.79", "value": "transparent"}, "value": "#666666"}, "labelOverlap": false, "labelFlush": false, "labelPadding": 8, "titlePadding": 8}},
  "color": {"field": "s", "type": "nominal",
   "scale": {"domain": ["no processing","machining","4 min","9 min","45 min","54 min","63 min","72 min","81 min"], "range": ["#00a651","#ff0000","#0000ff","#92d050","#0070c0","#ff77ff","#ed7d31","#9933ff","#0099ff"]}}
 }},
{"mark": {"type": "point", "filled": true, "size": 20, "strokeWidth": 1.2, "opacity": 1},
 "encoding": {
  "x": {"field": "B", "type": "quantitative"},
  "y": {"field": "k", "type": "quantitative"},
  "shape": {"condition": [{"test": "datum.s == 'machining' || datum.s == '63 min'", "value": "square"}, {"test": "datum.s == '4 min'", "value": "M-1,-1L1,1M-1,1L1,-1"}, {"test": "datum.s == '9 min' || datum.s == '72 min'", "value": "diamond"}, {"test": "datum.s == '45 min' || datum.s == '81 min'", "value": "triangle-up"}], "value": "circle"},
  "fill": {"field": "s", "type": "nominal", "legend": null},
  "stroke": {"field": "s", "type": "nominal", "legend": null}
 }}
]
}
],
"config": {
 "font": "Liberation Serif",
 "view": {"stroke": "black", "strokeWidth": 2.5},
 "axis": {"labelFont": "Liberation Serif", "labelFontSize": 23, "labelColor": "black", "titleFont": "Liberation Serif", "titleFontSize": 23, "titleFontWeight": "normal", "titleColor": "black", "domain": false, "ticks": false, "grid": true, "gridDash": [3, 3], "gridWidth": 1}
}
}
